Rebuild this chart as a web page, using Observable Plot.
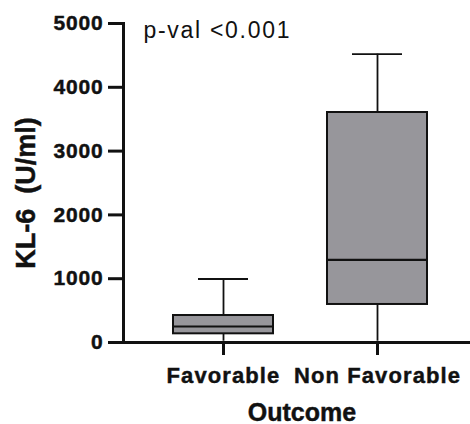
<!DOCTYPE html>
<html><head><meta charset="utf-8">
<script src="https://cdn.jsdelivr.net/npm/d3@7"></script>
<script src="https://cdn.jsdelivr.net/npm/@observablehq/plot@0.6"></script>
<style>
body{margin:0;background:#fff}
#chart g[aria-label="y-axis tick label"] text {letter-spacing:0.8px}
#chart g[aria-label="x-axis tick label"] text {letter-spacing:1.1px}
#chart .pval text {letter-spacing:1.7px}
#chart .heavy text, #chart g[aria-label$="tick label"] text {stroke:#151515; stroke-width:0.45px; paint-order:stroke}
</style>
</head><body><div id="chart"></div>
<script>
const outcomes = ["Favorable", "Non Favorable"];
const mins = [20, 20];
const q1s = [136, 596];
const medians = [251, 1296];
const q3s = [423, 3605];
const maxs = [995, 4520];
const yTicks = [0, 1000, 2000, 3000, 4000, 5000];
const pLabel = "p-val <0.001";
const yLabel = "KL-6\u00a0\u00a0(U/ml)";
const xLabel = "Outcome";

const rows = outcomes.map((o, i) => ({outcome: o, min: mins[i], q1: q1s[i], median: medians[i], q3: q3s[i], max: maxs[i]}));
const font = '"Liberation Sans", Arial, Helvetica, sans-serif';
const ink = "#111111";
const W = 470, H = 424, mL = 123, mR = 0, mT = 23, mB = 82;

const chart = Plot.plot({
  width: W, height: H,
  marginLeft: mL, marginRight: mR, marginTop: mT, marginBottom: mB,
  style: {fontFamily: font, background: "#fff", color: ink, overflow: "visible"},
  x: {domain: outcomes, range: [146, 454], padding: 0},
  y: {domain: [0, 5000]},
  marks: [
    Plot.ruleX(rows, {x: "outcome", y1: "q3", y2: "max", stroke: ink, strokeWidth: 1.8}),
    Plot.ruleX(rows, {x: "outcome", y1: "min", y2: "q1", stroke: ink, strokeWidth: 1.8}),
    Plot.tickY(rows, {x: "outcome", y: "max", stroke: ink, strokeWidth: 1.8, insetLeft: 52, insetRight: 52}),
    Plot.barY(rows, {x: "outcome", y1: "q1", y2: "q3", fill: "#97969b", stroke: ink, strokeWidth: 2, insetLeft: 27, insetRight: 27}),
    Plot.tickY(rows, {x: "outcome", y: "median", stroke: ink, strokeWidth: 2.2, insetLeft: 27, insetRight: 27}),
    Plot.axisY({ticks: yTicks, tickSize: 0, tickPadding: 20, fontSize: 21, fontWeight: "bold", label: null, tickFormat: d => String(d)}),
    Plot.axisX({tickSize: 0, tickPadding: 25, fontSize: 22, fontWeight: "bold", label: null}),
    Plot.tickY(yTicks, {y: d => d, stroke: ink, strokeWidth: 3, insetLeft: -15, insetRight: W - mL - mR}),
    Plot.ruleX(outcomes, {x: d => d, stroke: ink, strokeWidth: 3, insetTop: H - mT - mB, insetBottom: -13}),
    Plot.frame({anchor: "left", stroke: ink, strokeWidth: 3, strokeLinecap: "square"}),
    Plot.frame({anchor: "bottom", stroke: ink, strokeWidth: 3, strokeLinecap: "square"}),
    Plot.text([yLabel], {text: d => d, frameAnchor: "left", rotate: -90, textAnchor: "middle", lineAnchor: "bottom", dx: -89, dy: 10, fontSize: 27, fontWeight: "bold", fill: ink, className: "heavy"}),
    Plot.text([xLabel], {text: d => d, frameAnchor: "bottom", textAnchor: "middle", lineAnchor: "bottom", dx: 5, dy: 78, fontSize: 25, fontWeight: "bold", fill: ink, className: "heavy"}),
    Plot.text([pLabel], {text: d => d, frameAnchor: "top-left", textAnchor: "start", lineAnchor: "bottom", dx: 20, dy: 14, fontSize: 23, fill: ink, className: "pval"})
  ]
});
document.getElementById("chart").append(chart);
</script>
</body></html>
